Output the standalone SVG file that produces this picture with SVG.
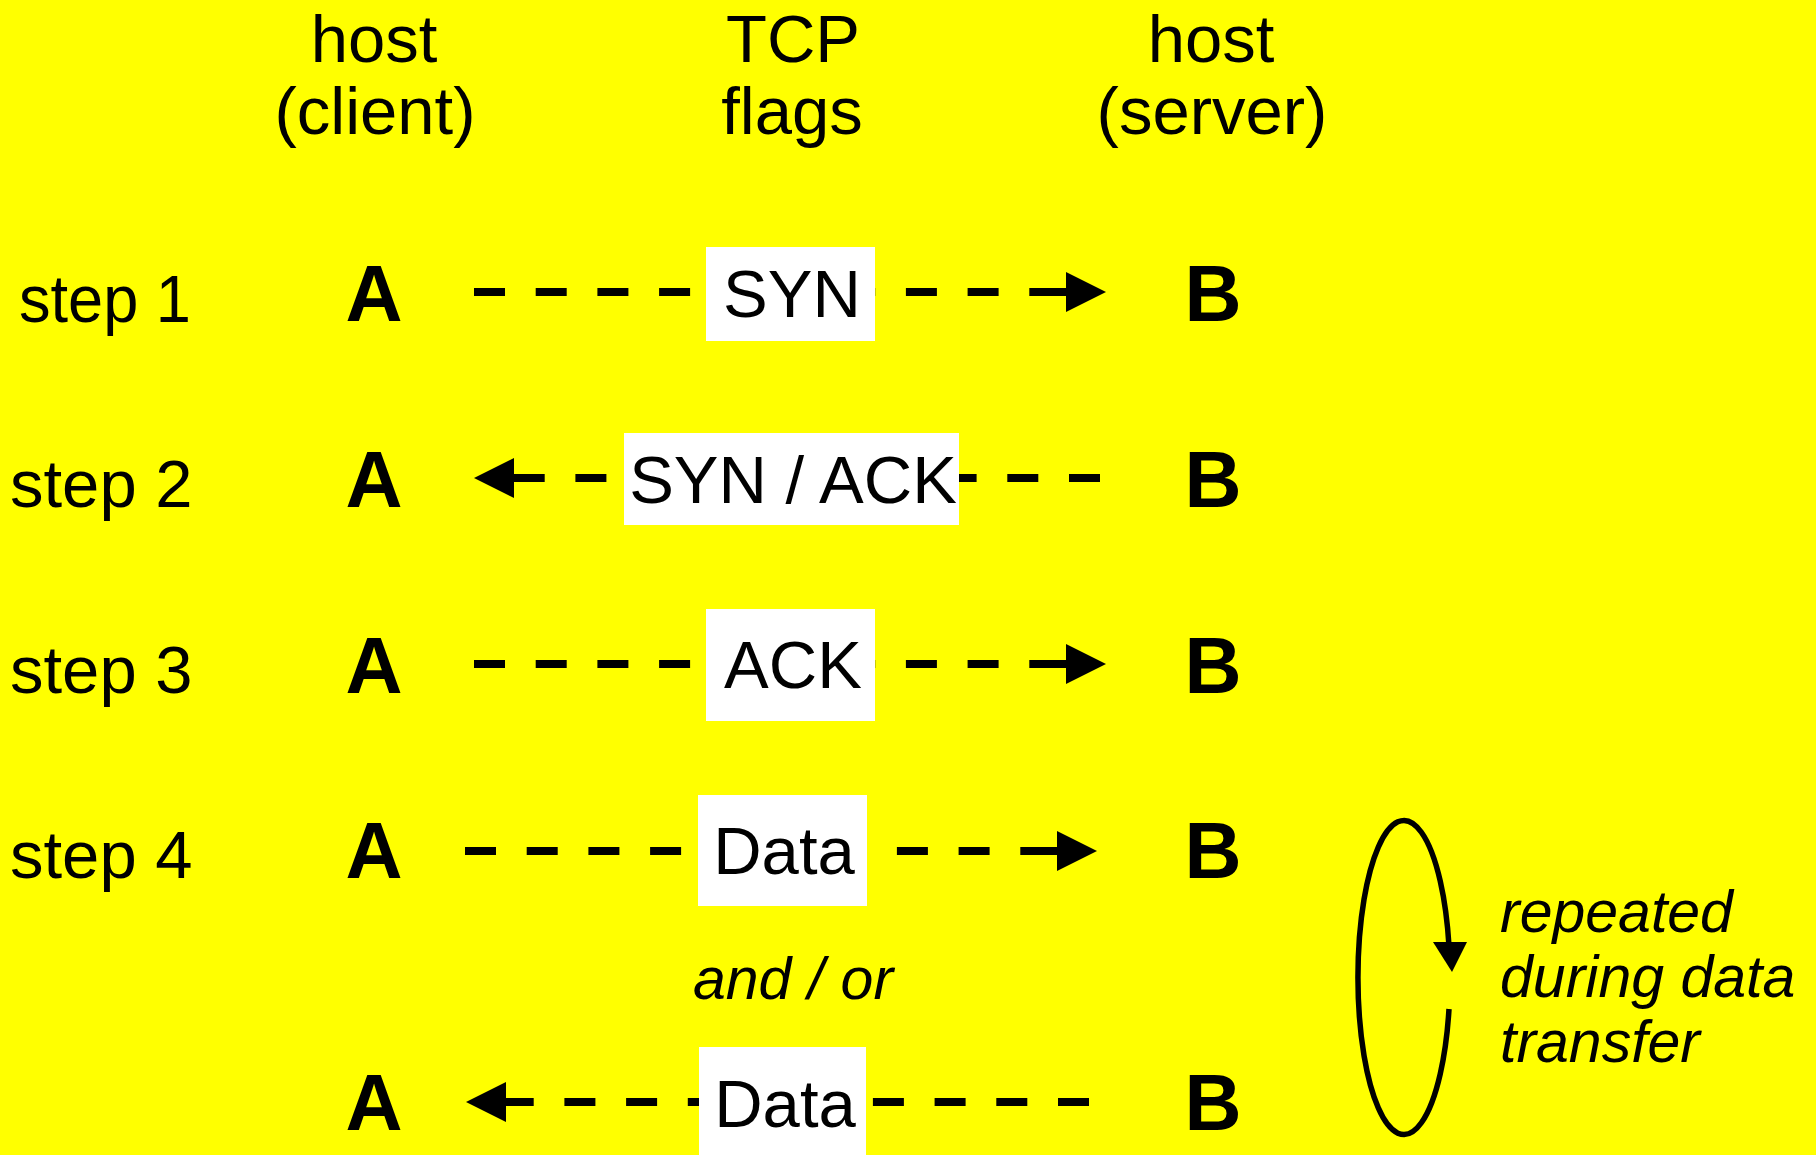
<svg xmlns="http://www.w3.org/2000/svg" width="1816" height="1155" viewBox="0 0 1816 1155">
  <style>
    .lbl { font-family: "Liberation Sans", Arial, Helvetica, sans-serif; font-size: 67px; fill: #000; }
    .mid { text-anchor: middle; }
    .host { font-family: "Liberation Sans", Arial, Helvetica, sans-serif; font-size: 79px; font-weight: bold; fill: #000; text-anchor: middle; }
    .note { font-family: "Liberation Sans", Arial, Helvetica, sans-serif; font-size: 59px; font-style: italic; fill: #000; }
    .flag { fill: #ffffff; stroke: none; }
    .dash { fill: none; stroke: #000; stroke-width: 8; stroke-dasharray: 31 30.7; stroke-linecap: butt; }
    .loop { fill: none; stroke: #000; stroke-width: 5.5; }
  </style>
  <defs>
    <!-- filled arrowhead with a short shaft so the last dash meets it -->
    <marker id="head" markerUnits="userSpaceOnUse" markerWidth="48" markerHeight="40" viewBox="-8 0 48 40" refX="0" refY="20" orient="auto">
      <path d="M-8,16 L0,16 L0,0 L40,20 L0,40 L0,24 L-8,24 Z" fill="#000"/>
    </marker>
  </defs>

  <rect x="0" y="0" width="1816" height="1155" fill="#ffff00"/>

  <!-- column headings -->
  <g id="heading-client">
    <text class="lbl mid" x="374" y="62">host</text>
    <text class="lbl mid" x="375" y="134">(client)</text>
  </g>
  <g id="heading-flags">
    <text class="lbl mid" x="793" y="62">TCP</text>
    <text class="lbl mid" x="792" y="134">flags</text>
  </g>
  <g id="heading-server">
    <text class="lbl mid" x="1211" y="62">host</text>
    <text class="lbl mid" x="1212" y="134">(server)</text>
  </g>

  <!-- step labels -->
  <g id="steps">
    <text class="lbl" x="19" y="322" textLength="172" lengthAdjust="spacingAndGlyphs">step 1</text>
    <text class="lbl" x="10" y="507">step 2</text>
    <text class="lbl" x="10" y="693">step 3</text>
    <text class="lbl" x="10" y="878">step 4</text>
  </g>

  <!-- segment exchanges -->
  <g id="connectors">
    <path class="dash" d="M474,292 L1066,292" marker-end="url(#head)"/>
    <path class="dash" d="M1100,478 L514,478" marker-end="url(#head)"/>
    <path class="dash" d="M474,664 L1066,664" marker-end="url(#head)"/>
    <path class="dash" d="M465,851 L1057,851" marker-end="url(#head)"/>
    <path class="dash" d="M1089,1102 L506,1102" marker-end="url(#head)"/>
    <!-- repeat loop -->
    <path class="loop" d="M1449,1009 A46,157 0 1 1 1449,946"/>
    <path d="M1433,942 L1467,942 L1452,972 Z" fill="#000"/>
  </g>

  <!-- hosts -->
  <g id="host-a">
    <text class="host" x="374" y="321">A</text>
    <text class="host" x="374" y="507">A</text>
    <text class="host" x="374" y="693">A</text>
    <text class="host" x="374" y="878">A</text>
    <text class="host" x="374" y="1130">A</text>
  </g>
  <g id="host-b">
    <text class="host" x="1213" y="321">B</text>
    <text class="host" x="1213" y="507">B</text>
    <text class="host" x="1213" y="693">B</text>
    <text class="host" x="1213" y="878">B</text>
    <text class="host" x="1213" y="1130">B</text>
  </g>

  <!-- flag labels -->
  <g id="flag-syn">
    <rect class="flag" x="706" y="247" width="169" height="94"/>
    <text class="lbl mid" x="792" y="317">SYN</text>
  </g>
  <g id="flag-synack">
    <rect class="flag" x="624" y="433" width="335" height="92"/>
    <text class="lbl mid" x="793" y="503">SYN / ACK</text>
  </g>
  <g id="flag-ack">
    <rect class="flag" x="706" y="609" width="169" height="112"/>
    <text class="lbl mid" x="793" y="688">ACK</text>
  </g>
  <g id="flag-data-out">
    <rect class="flag" x="698" y="795" width="169" height="111"/>
    <text class="lbl mid" x="784" y="874">Data</text>
  </g>
  <g id="flag-data-in">
    <rect class="flag" x="699" y="1047" width="167" height="108"/>
    <text class="lbl mid" x="785" y="1127">Data</text>
  </g>

  <g id="and-or">
    <text class="note mid" x="793" y="999">and / or</text>
  </g>

  <g id="repeat-note">
    <text class="note" x="1500" y="932">repeated</text>
    <text class="note" x="1500" y="997">during data</text>
    <text class="note" x="1500" y="1062">transfer</text>
  </g>
</svg>
